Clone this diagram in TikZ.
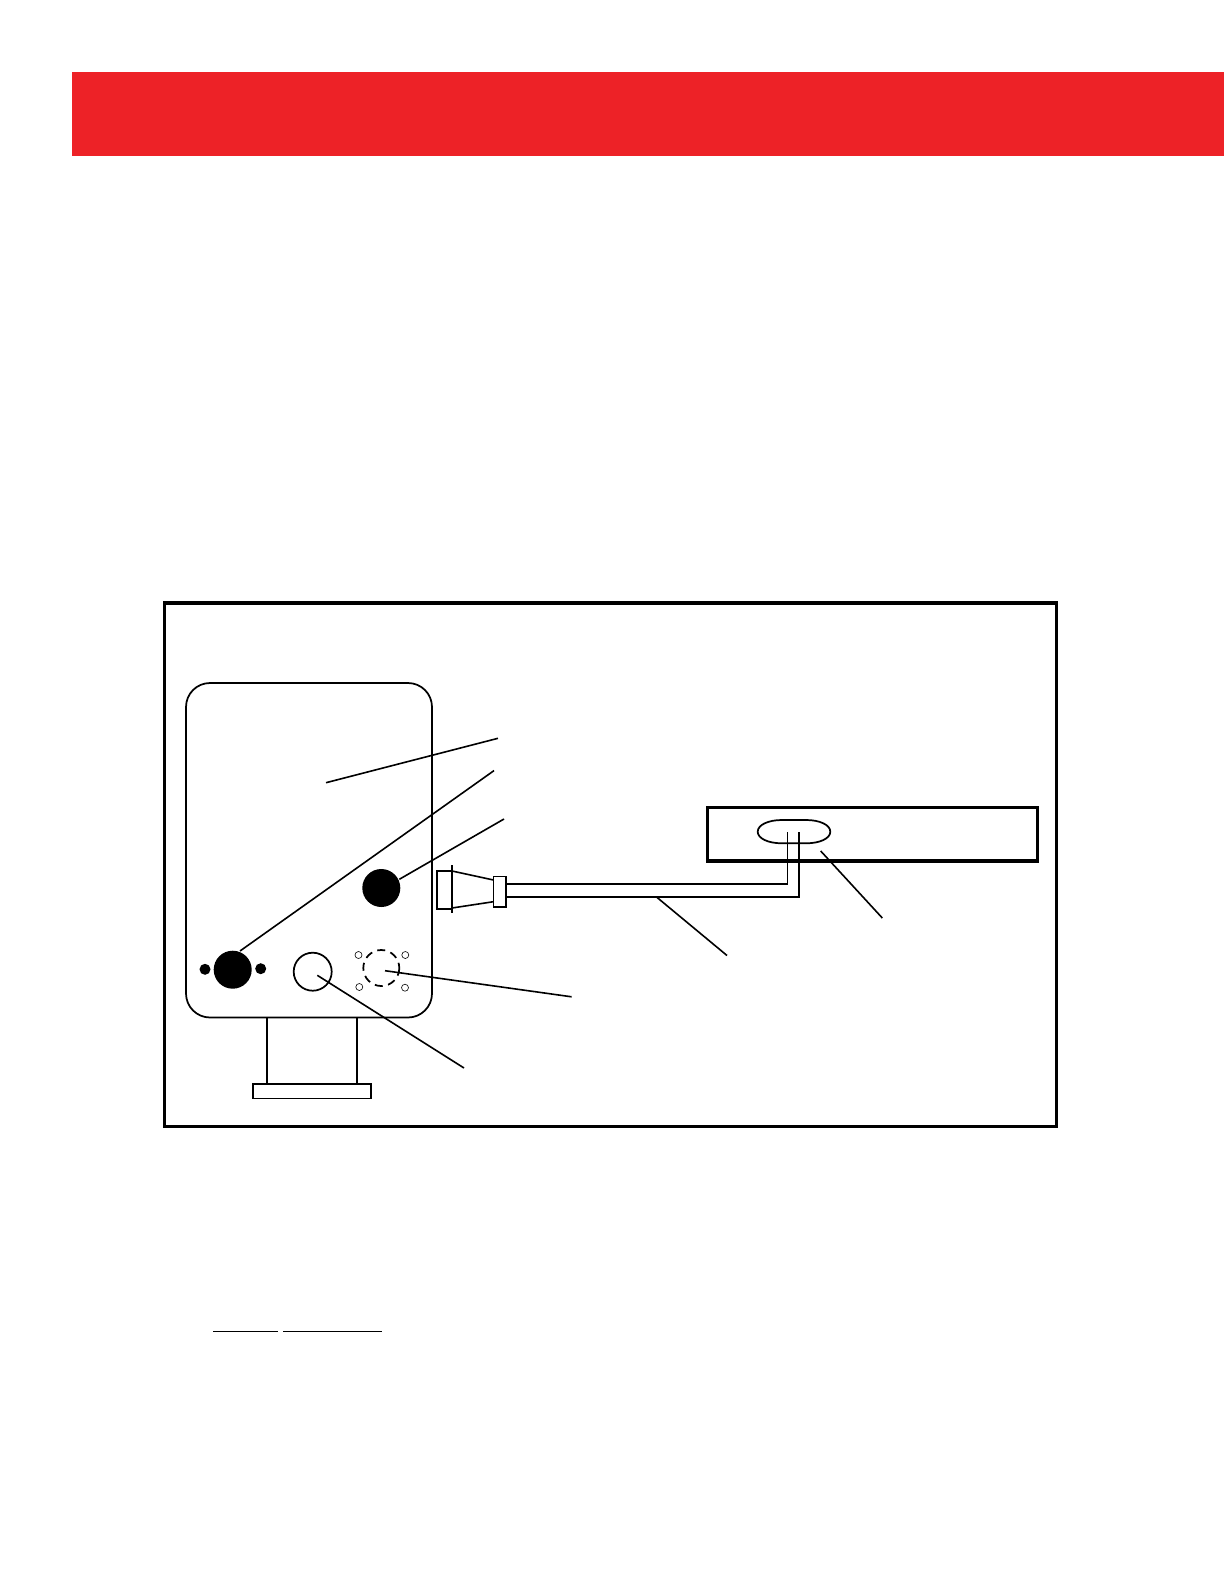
\documentclass[tikz,border=0pt]{standalone}
\definecolor{bannerred}{HTML}{ED2227}
\tikzset{
  x=0.75pt,y=-0.75pt,
  frame line/.style={line width=2.5pt},
  leader/.style={line width=1.2pt},
  outline/.style={line width=1.2pt},
  dot/.style={circle,fill=black,draw=none,inner sep=0pt,minimum size=#1*0.75pt},
  ring/.style={circle,draw=black,inner sep=0pt,minimum size=#1*0.75pt},
}
\begin{document}
\begin{tikzpicture}
\useasboundingbox (0,0) rectangle (1224,1584);
% banner
\fill[bannerred] (72,72) rectangle (1224,156);
% outer frame
\draw[frame line] (164.5,603) rectangle (1056.5,1126.5);
% neck and base
\draw[outline,line width=1.3pt] (267,1017.5) -- (267,1084) (357,1017.5) -- (357,1084);
\draw[outline,line width=1.3pt] (253,1084) rectangle (371,1098.5);
% body
\draw[outline,line width=1.3pt,rounded corners=18pt] (186,683) rectangle (432,1017.5);
% controls
\node[dot=38] (knobL) at (232.7,969.7) {};
\node[dot=11] (pinL) at (205,969.3) {};
\node[dot=11] (pinR) at (260.7,968.7) {};
\node[dot=38] (knobR) at (381.3,888) {};
\node[ring=38,outline,line width=1.3pt] (port) at (312.7,971.7) {};
\node[ring=36,outline,line width=1.3pt,dash pattern=on 6pt off 4.1pt,dash phase=2pt] (mount) at (381.3,968) {};
\node[ring=7,line width=0.45pt] (s1) at (358.5,955) {};
\node[ring=7,line width=0.45pt] (s2) at (405.3,955) {};
\node[ring=7,line width=0.45pt] (s3) at (359.3,987) {};
\node[ring=7,line width=0.45pt] (s4) at (405,987.7) {};
% device
\draw[line width=2.7pt] (707.5,807.5) rectangle (1037.5,861);
\draw[outline,line width=1.3pt] (782,820) -- (806,820)
  .. controls (820,820) and (830.3,825) .. (830.3,831.7)
  .. controls (830.3,838.4) and (820,843.3) .. (806,843.3)
  -- (782,843.3)
  .. controls (768,843.3) and (757.7,838.4) .. (757.7,831.7)
  .. controls (757.7,825) and (768,820) .. (782,820) -- cycle;
% plug
\draw[outline] (452,871) -- (437,871) -- (437,909) -- (452,909);
\draw[outline,line width=1.3pt] (452,865) -- (452,913);
\draw[outline] (452,871) -- (493.5,880) (452,908) -- (493.5,901.7);
\draw[outline] (493.5,876.3) rectangle (505.7,907);
% cable
\coordinate (c1a) at (505.7,884);
\coordinate (c1b) at (787.5,884);
\coordinate (c1c) at (787.5,832);
\coordinate (c2a) at (505.7,896.8);
\coordinate (c2b) at (799,896.8);
\coordinate (c2c) at (799,832);
\draw[outline] (c1a) -- (c1b) -- (c1c);
\draw[outline] (c2a) -- (c2b) -- (c2c);
% leaders
\coordinate (a1) at (326,782.7); \coordinate (a2) at (498,738.3);
\coordinate (b2) at (494,770.6); \coordinate (b1) at (240,951);
\coordinate (c3) at (504,819);   \coordinate (c4) at (399.3,879.3);
\coordinate (d1) at (656.5,897); \coordinate (d2) at (727,955.5);
\coordinate (e1) at (820.7,851); \coordinate (e2) at (882.3,918);
\coordinate (f1) at (385,970.7); \coordinate (f2) at (571.6,996.8);
\coordinate (g1) at (317.3,975.3); \coordinate (g2) at (464,1068);
\draw[leader] (a1) -- (a2);
\draw[leader] (b1) -- (b2);
\draw[leader] (c4) -- (c3);
\draw[leader] (d1) -- (d2);
\draw[leader] (e1) -- (e2);
\draw[leader] (f1) -- (f2);
\draw[leader] (g1) -- (g2);
% rules
\draw[line width=0.75pt] (213,1331.3) -- (278,1331.3);
\draw[line width=0.75pt] (283,1331.3) -- (382,1331.3);
\end{tikzpicture}
\end{document}
